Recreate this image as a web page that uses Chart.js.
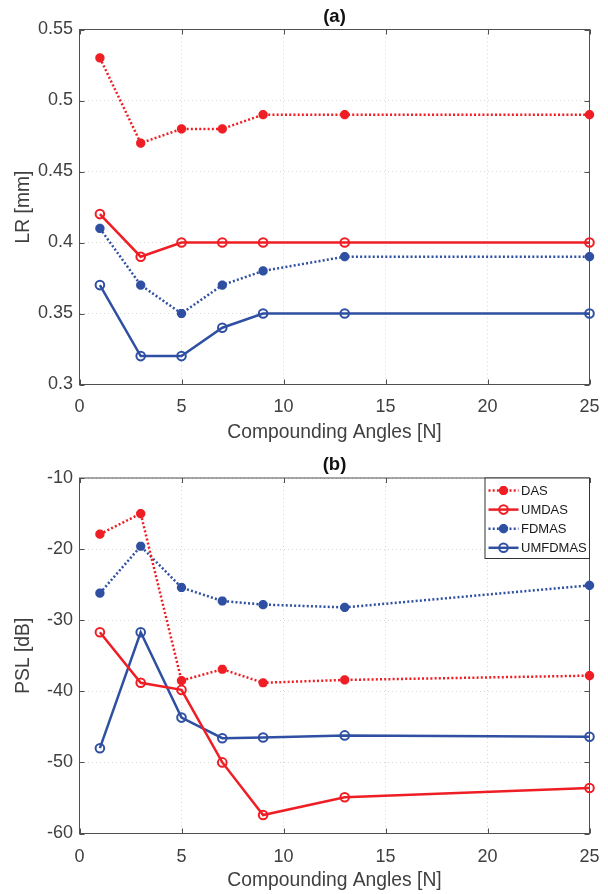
<!DOCTYPE html>
<html>
<head>
<meta charset="utf-8">
<script src="https://cdn.jsdelivr.net/npm/chart.js@4.4.0/dist/chart.umd.min.js"></script>
<style>
body{margin:0;background:#fff;}
.panel{position:absolute;left:0;width:608px;height:447px;}
</style>
</head>
<body>
<div class="panel" style="top:0"><canvas id="lrChart" width="608" height="447"></canvas></div>
<div class="panel" style="top:447px"><canvas id="pslChart" width="608" height="447"></canvas></div>
<script>
// x values (number of compounding angles)
var angles=[1,3,5,7,9,13,25];
var xTicks=[0,5,10,15,20,25];

// (a) lateral resolution [mm]
var lr_das=[0.53,0.47,0.48,0.48,0.49,0.49,0.49];
var lr_umdas=[0.42,0.39,0.40,0.40,0.40,0.40,0.40];
var lr_fdmas=[0.41,0.37,0.35,0.37,0.38,0.39,0.39];
var lr_umfdmas=[0.37,0.32,0.32,0.34,0.35,0.35,0.35];
var lrTicks=[0.3,0.35,0.4,0.45,0.5,0.55];
var lrTickLabels=['0.3','0.35','0.4','0.45','0.5','0.55'];

// (b) peak sidelobe level [dB]
var psl_das=[-17.9,-15.0,-38.5,-36.9,-38.8,-38.4,-37.8];
var psl_umdas=[-31.7,-38.8,-39.8,-50.0,-57.4,-54.9,-53.6];
var psl_fdmas=[-26.2,-19.6,-25.4,-27.3,-27.8,-28.2,-25.1];
var psl_umfdmas=[-48.0,-31.7,-43.7,-46.6,-46.5,-46.2,-46.4];
var pslTicks=[-60,-50,-40,-30,-20,-10];
var pslTickLabels=['-60','-50','-40','-30','-20','-10'];

var seriesNames=['DAS','UMDAS','FDMAS','UMFDMAS'];

var RED='rgb(238,30,36)';
var BLUE='rgb(47,80,162)';
var FONT="'Liberation Sans', Arial, Helvetica, sans-serif";
Chart.defaults.font.family=FONT;
Chart.defaults.color='#333';

function pts(ys){
  return angles.map(function(a,i){return {x:a,y:ys[i]};});
}

function makeSets(das,umdas,fdmas,umfdmas){
  var list=[das,umdas,fdmas,umfdmas];
  return list.map(function(d,i){
    var red=i<2, dotted=(i%2==0);
    return {
      label:seriesNames[i],
      data:pts(d),
      borderColor:red?RED:BLUE,
      backgroundColor:'rgba(0,0,0,0)',
      borderWidth:2.5,
      borderDash:dotted?[2,2.2]:[],
      pointStyle:dotted?'star':'circle',
      pointRadius:dotted?4.6:4.3,
      pointBorderWidth:dotted?3.2:2,
      pointBackgroundColor:dotted?(red?RED:BLUE):'rgba(0,0,0,0)',
      pointBorderColor:red?RED:BLUE,
      tension:0,
      clip:false
    };
  });
}

// box + inward ticks like the original figure
var frame={
  id:'frame',
  beforeDatasetsDraw:function(chart){
    var a=chart.chartArea,c=chart.ctx,xs=chart.scales.x,ys=chart.scales.y;
    c.save();
    c.strokeStyle='#505050';c.lineWidth=1;
    c.strokeRect(a.left,a.top,a.right-a.left,a.bottom-a.top);
    c.beginPath();
    xs.ticks.forEach(function(t){
      var p=Math.round(xs.getPixelForValue(t.value))+0.5;
      c.moveTo(p,a.bottom);c.lineTo(p,a.bottom-5);
      c.moveTo(p,a.top);c.lineTo(p,a.top+5);
    });
    ys.ticks.forEach(function(t){
      var p=Math.round(ys.getPixelForValue(t.value))+0.5;
      c.moveTo(a.left,p);c.lineTo(a.left+5,p);
      c.moveTo(a.right,p);c.lineTo(a.right-5,p);
    });
    c.stroke();
    c.restore();
  },
  afterDraw:function(chart,args,opts){
    var a=chart.chartArea,c=chart.ctx;
    c.save();
    c.fillStyle='#111';
    c.font='bold 18.5px '+FONT;
    c.textAlign='center';c.textBaseline='middle';
    c.fillText(opts.title,(a.left+a.right)/2,opts.titleY);
    c.restore();
  }
};

var boxLegend={
  id:'boxLegend',
  afterDraw:function(chart,args,opts){
    if(!opts.show) return;
    var a=chart.chartArea,c=chart.ctx;
    var w=104.5,h=80.5,x0=a.right-w,y0=a.top;
    c.save();
    c.fillStyle='#fff';c.fillRect(x0,y0,w,h);
    c.strokeStyle='#333';c.lineWidth=1;c.strokeRect(x0,y0,w,h);
    chart.data.datasets.forEach(function(ds,i){
      var y=y0+12.5+i*19.1;
      c.strokeStyle=ds.borderColor;c.lineWidth=ds.borderWidth;
      c.setLineDash(ds.borderDash);
      c.beginPath();c.moveTo(x0+3.5,y);c.lineTo(x0+33.5,y);c.stroke();
      c.setLineDash([]);
      c.lineWidth=ds.pointBorderWidth;
      c.fillStyle=ds.pointBackgroundColor;
      Chart.helpers.drawPoint(c,{pointStyle:ds.pointStyle,radius:ds.pointRadius,borderWidth:ds.pointBorderWidth,rotation:0},x0+18.5,y);
      c.fillStyle='#1a1a1a';c.font='13px '+FONT;
      c.textAlign='left';c.textBaseline='middle';
      c.fillText(ds.label,x0+36,y+0.5);
    });
    c.restore();
  }
};

function makeOptions(cfg){
  return {
    responsive:false,
    animation:false,
    layout:{padding:{top:cfg.top,right:18.5,left:0,bottom:0}},
    plugins:{
      legend:{display:false},
      tooltip:{enabled:false},
      title:{display:false},
      frame:{title:cfg.title,titleY:cfg.titleY},
      boxLegend:{show:cfg.legend}
    },
    scales:{
      x:{
        type:'linear',min:0,max:25,
        afterBuildTicks:function(s){s.ticks=xTicks.map(function(v){return {value:v};});},
        afterFit:function(s){s.height=cfg.xh;s.paddingLeft=0;s.paddingRight=0;},
        grid:{color:'#d6d6d6',lineWidth:1,drawTicks:false},
        border:{display:false,dash:[1,3]},
        ticks:{padding:cfg.tickPad,color:'#404040',font:{size:18}},
        title:{display:true,text:'Compounding Angles [N]',color:'#404040',font:{size:19.3},padding:{top:0,bottom:cfg.titlePad}}
      },
      y:{
        type:'linear',min:cfg.min,max:cfg.max,
        afterBuildTicks:function(s){s.ticks=cfg.ticks.map(function(v){return {value:v};});},
        afterFit:function(s){s.width=79.5;s.paddingTop=0;s.paddingBottom=0;},
        grid:{color:'#d6d6d6',lineWidth:1,drawTicks:false},
        border:{display:false,dash:[1,3]},
        ticks:{padding:6.5,color:'#404040',font:{size:18},
          callback:function(v,i){return cfg.labels[i];}},
        title:{display:true,text:cfg.yTitle,color:'#404040',font:{size:19.3},padding:{top:12,bottom:0}}
      }
    }
  };
}

new Chart(document.getElementById('lrChart'),{
  type:'line',
  data:{datasets:makeSets(lr_das,lr_umdas,lr_fdmas,lr_umfdmas)},
  options:makeOptions({min:0.3,max:0.55,ticks:lrTicks,labels:lrTickLabels,yTitle:'LR [mm]',title:'(a)',legend:false,
    top:29.5,xh:62.5,tickPad:12,titlePad:2.6,titleY:16.5}),
  plugins:[frame,boxLegend]
});

new Chart(document.getElementById('pslChart'),{
  type:'line',
  data:{datasets:makeSets(psl_das,psl_umdas,psl_fdmas,psl_umfdmas)},
  options:makeOptions({min:-60,max:-10,ticks:pslTicks,labels:pslTickLabels,yTitle:'PSL [dB]',title:'(b)',legend:true,
    top:31,xh:60.5,tickPad:13,titlePad:2.2,titleY:17.5}),
  plugins:[frame,boxLegend]
});
</script>
</body>
</html>
